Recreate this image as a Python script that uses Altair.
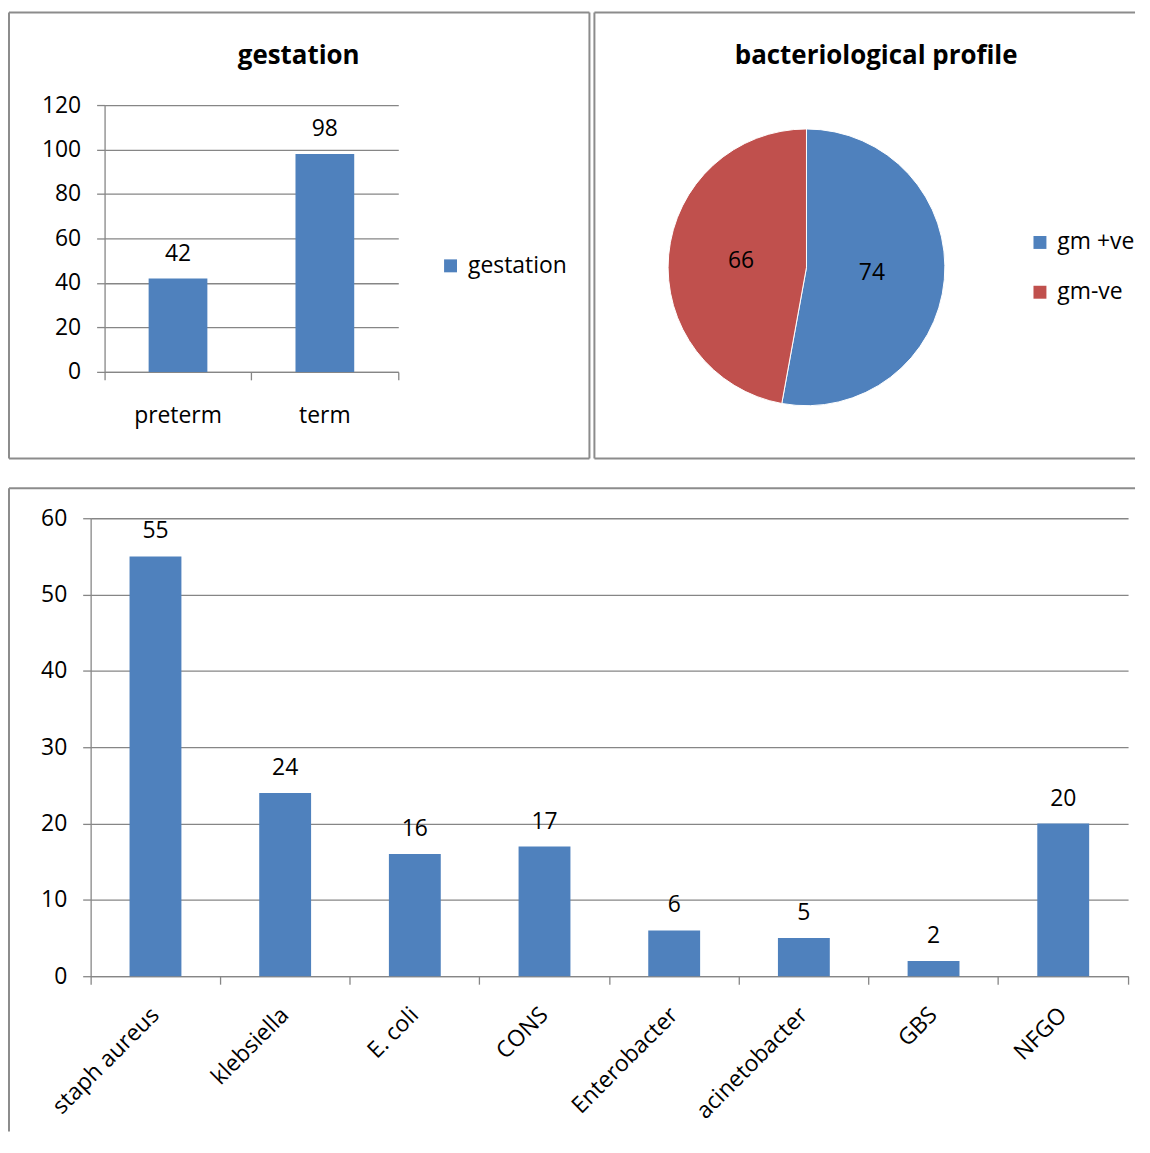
import altair as alt
import pandas as pd

# ---------------- data ----------------
gest_cats = ["preterm", "term"]
gest_vals = [42, 98]
gest_series = "gestation"

gram_cats = ["gm +ve", "gm-ve"]
gram_vals = [74, 66]

bact_cats = ["staph aureus", "klebsiella", "E. coli", "CONS", "Enterobacter",
             "acinetobacter", "GBS", "NFGO"]
bact_vals = [55, 24, 16, 17, 6, 5, 2, 20]

gest_ticks = [0, 20, 40, 60, 80, 100, 120]
bact_ticks = [0, 10, 20, 30, 40, 50, 60]

# ---------------- style ----------------
FONT = "Open Sans"
BLUE = "#4F81BD"
RED = "#C0504D"
GRID = "#868686"
BORDER = "#8C8C8C"
FS = 23

one = pd.DataFrame({"k": [0]})


def rule(x1, x2, y1, y2):
    return alt.Chart(one).mark_rule(color=BORDER, strokeWidth=2).encode(
        x=alt.value(x1), x2=alt.value(x2), y=alt.value(y1), y2=alt.value(y2)
    )


def title(txt, x, y):
    return alt.Chart(one).mark_text(
        text=txt, fontWeight="bold", fontSize=26, font=FONT, color="black",
        align="center", baseline="alphabetic"
    ).encode(x=alt.value(x), y=alt.value(y))


# ---------------- panel 1: gestation ----------------
W1, H1 = 295, 268
g_df = pd.DataFrame({"cat": gest_cats, "val": gest_vals,
                     "series": [gest_series] * len(gest_cats)})

x1 = alt.X("cat:N", sort=gest_cats,
           scale=alt.Scale(paddingInner=0, paddingOuter=0),
           axis=alt.Axis(title=None, labelAngle=0, bandPosition=1, tickExtra=True,
                         labelPadding=25, grid=False))
y1 = alt.Y("val:Q", scale=alt.Scale(domain=[0, 120], nice=False),
           axis=alt.Axis(title=None, values=gest_ticks, grid=True, labelPadding=16))

bars1 = alt.Chart(g_df).mark_bar(width={"band": 0.4}).encode(
    x=x1, y=y1,
    color=alt.Color("series:N", scale=alt.Scale(domain=[gest_series], range=[BLUE]),
                    legend=alt.Legend(orient="none", legendX=336, legendY=150, title=None,
                                      symbolType="square", symbolSize=169,
                                      symbolStrokeWidth=0, labelFontSize=FS,
                                      labelFont=FONT, labelOffset=6, padding=0)),
)
text1 = alt.Chart(g_df).mark_text(dy=-18, baseline="alphabetic", fontSize=FS,
                                  font=FONT, color="black").encode(
    x=alt.X("cat:N", sort=gest_cats), y="val:Q", text="val:Q")

p1 = alt.layer(
    bars1, text1,
    title("gestation", 195, -41),
    rule(-96, 487, -93, -93), rule(-96, 487, 355, 355),
    rule(-96, -96, -93, 355), rule(487, 487, -93, 355),
).properties(width=W1, height=H1)

# ---------------- panel 2: pie ----------------
W2, H2 = 278, 326
p_df = pd.DataFrame({"cat": gram_cats, "val": gram_vals, "ord": list(range(len(gram_cats)))})

arc = alt.Chart(p_df).mark_arc(stroke="white", strokeWidth=1).encode(
    theta=alt.Theta("val:Q", stack=True),
    order=alt.Order("ord:Q"),
    color=alt.Color("cat:N", sort=gram_cats,
                    scale=alt.Scale(domain=gram_cats, range=[BLUE, RED]),
                    legend=alt.Legend(orient="none", legendX=362, legendY=126.5, title=None,
                                      symbolType="square", symbolSize=169,
                                      symbolStrokeWidth=0, labelFontSize=FS,
                                      labelFont=FONT, labelOffset=6, padding=0,
                                      rowPadding=26)),
)
arc_text = alt.Chart(p_df).mark_text(radius=66, fontSize=FS, font=FONT,
                                     color="black").encode(
    theta=alt.Theta("val:Q", stack=True),
    order=alt.Order("ord:Q"),
    text="val:Q",
)

p2 = alt.layer(
    arc, arc_text,
    title("bacteriological profile", 209, -41),
    rule(-74, 469, -93, -93), rule(-74, 469, 355, 355),
    rule(-74, -74, -93, 355),
).properties(width=W2, height=H2)

# ---------------- panel 3: bacteria ----------------
# plot origin is shared with panel 1 (x=105); this panel's axis sits 14px further left
SH = 14
W3, H3 = 1028, 460
b_df = pd.DataFrame({"cat": bact_cats, "val": bact_vals})

x3 = alt.X("cat:N", sort=bact_cats,
           scale=alt.Scale(paddingInner=0, paddingOuter=0, range=[-SH, W3]),
           axis=alt.Axis(title=None, labelAngle=-45, labelAlign="right",
                         labelBaseline="middle", bandPosition=1, tickExtra=True,
                         labelPadding=27, grid=False))
y3 = alt.Y("val:Q", scale=alt.Scale(domain=[0, 60], nice=False),
           axis=alt.Axis(title=None, values=bact_ticks, grid=True, labelPadding=16,
                         offset=SH))

bars3 = alt.Chart(b_df).mark_bar(width={"band": 0.4}, color=BLUE).encode(x=x3, y=y3)
text3 = alt.Chart(b_df).mark_text(dy=-18, baseline="alphabetic", fontSize=FS,
                                  font=FONT, color="black").encode(
    x=alt.X("cat:N", sort=bact_cats), y="val:Q", text="val:Q")

p3 = alt.layer(
    bars3, text3,
    rule(-96, 1035, -30, -30), rule(-96, -96, -30, 616),
).properties(width=W3, height=H3)

top = alt.hconcat(p1, p2, spacing=3).resolve_scale(color="independent")
chart = alt.vconcat(top, p3, spacing=28).resolve_scale(color="independent").properties(
    padding={"left": 0, "top": 1, "right": 0, "bottom": 0}
).configure_view(stroke=None).configure_axis(
    labelFont=FONT, labelFontSize=FS, labelColor="black",
    domainColor=GRID, tickColor=GRID, gridColor=GRID,
    tickSize=8, domainWidth=1.3, tickWidth=1.3, gridWidth=1.3,
).configure_text(font=FONT)

chart.save("out.html", embed_options={"renderer": "svg", "actions": False})
